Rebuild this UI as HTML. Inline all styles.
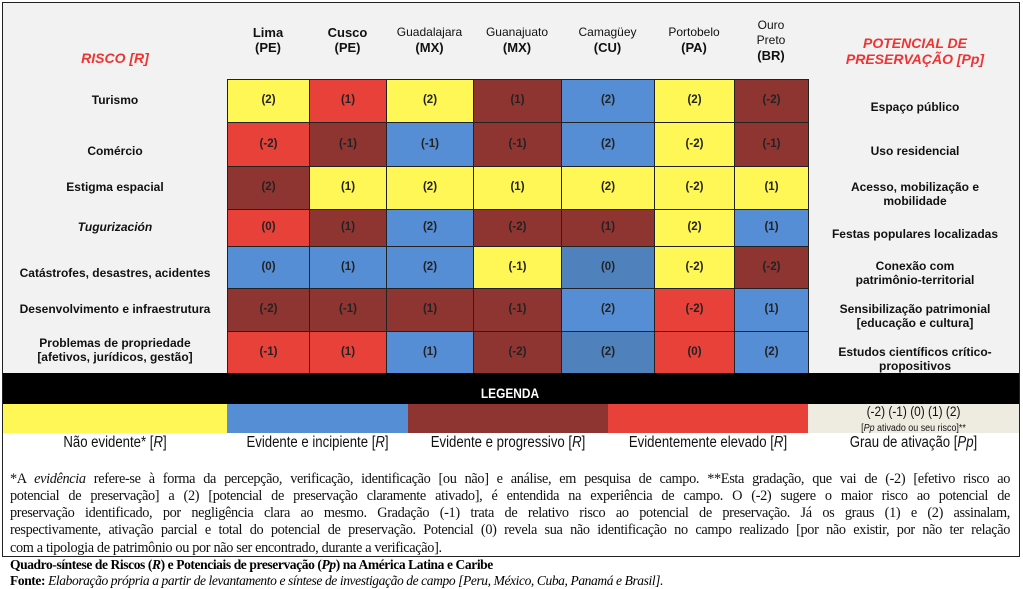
<!DOCTYPE html>
<html><head><meta charset="utf-8">
<style>
body{margin:0;width:1023px;height:589px;background:#fff;position:relative;overflow:hidden;font-family:"Liberation Sans",sans-serif;}
.a{position:absolute;}
#frame{left:2px;top:2px;width:1016px;height:553px;border:1.5px solid #222;background:#fff;}
#top{left:3px;top:3px;width:1016px;height:371px;background:#f2f2f2;}
.hdr{font-weight:bold;text-align:center;font-size:13px;line-height:15px;color:#111;}
.lab{font-weight:bold;text-align:center;font-size:12px;line-height:14px;color:#111;}
.cell{box-sizing:border-box;border:1px solid #222;display:flex;align-items:center;justify-content:center;font-weight:bold;font-size:11.5px;color:#222;}
.red{color:#e33;font-style:italic;font-weight:bold;text-align:center;font-size:14px;line-height:16px;}
.nar{font-size:15px;white-space:nowrap;transform:scaleX(0.85);transform-origin:center;text-align:center;color:#111;}
.fn{left:10px;width:1000px;font-family:"Liberation Serif",serif;font-size:14.3px;line-height:18px;text-align:justify;text-align-last:justify;letter-spacing:-0.35px;white-space:nowrap;color:#111;}
</style></head><body>
<div class="a" id="frame"></div>
<div class="a" id="top"></div>
<div class="a red" style="left:40px;top:50px;width:150px;">RISCO [R]</div>
<div class="a red" style="left:820px;top:35px;width:190px;">POTENCIAL DE<br>PRESERVAÇÃO [Pp]</div>
<div id="grid"></div>
<div class="a" style="left:3px;top:373px;width:1016px;height:31px;background:#000;"></div>
<div class="a nar" style="left:410px;top:385px;width:200px;color:#fff;font-size:14px;font-weight:bold;">LEGENDA</div>
<div id="legend"></div>
<div class="a fn" style="top:470px;">*A <i>evidência</i> refere-se à forma da percepção, verificação, identificação [ou não] e análise, em pesquisa de campo. **Esta gradação, que vai de (-2) [efetivo risco ao</div>
<div class="a fn" style="top:487px;">potencial de preservação] a (2) [potencial de preservação claramente ativado], é entendida na experiência de campo. O (-2) sugere o maior risco ao potencial de</div>
<div class="a fn" style="top:504px;">preservação identificado, por negligência clara ao mesmo. Gradação (-1) trata de relativo risco ao potencial de preservação. Já os graus (1) e (2) assinalam,</div>
<div class="a fn" style="top:521px;">respectivamente, ativação parcial e total do potencial de preservação. Potencial (0) revela sua não identificação no campo realizado [por não existir, por não ter relação</div>
<div class="a fn" style="top:539px;text-align-last:left;width:auto;">com a tipologia de patrimônio ou por não ser encontrado, durante a verificação].</div>
<div class="a" style="left:10px;top:557px;font-family:'Liberation Serif',serif;font-size:13.5px;font-weight:bold;letter-spacing:-0.4px;">Quadro-síntese de Riscos (<i>R</i>) e Potenciais de preservação (<i>Pp</i>) na América Latina e Caribe</div>
<div class="a" style="left:10px;top:573px;font-family:'Liberation Serif',serif;font-size:13.5px;letter-spacing:-0.4px;"><b>Fonte:</b> <i>Elaboração própria a partir de levantamento e síntese de investigação de campo [Peru, México, Cuba, Panamá e Brasil].</i></div>
<script>
const cities=["Lima<br>(PE)","Cusco<br>(PE)","Guadalajara<br>(MX)","Guanajuato<br>(MX)","Camagüey<br>(CU)","Portobelo<br>(PA)","Ouro<br>Preto<br>(BR)"];
const risks=["Turismo","Comércio","Estigma espacial","<i>Tugurización</i>","Catástrofes, desastres, acidentes","Desenvolvimento e infraestrutura","Problemas de propriedade<br>[afetivos, jurídicos, gestão]"];
const potentials=["Espaço público","Uso residencial","Acesso, mobilização e<br>mobilidade","Festas populares localizadas","Conexão com<br>patrimônio-territorial","Sensibilização patrimonial<br>[educação e cultura]","Estudos científicos crítico-<br>propositivos"];
const riskLevels=[
"YRYDBYD","RDBDBYD","DYYYYYY","RDBDDYB","BBBYCYD","DDDDBRB","RRBDCRB"];
const grades=[
[2,1,2,1,2,2,-2],[-2,-1,-1,-1,2,-2,-1],[2,1,2,1,2,-2,1],[0,1,2,-2,1,2,1],[0,1,2,-1,0,-2,-2],[-2,-1,1,-1,2,-2,1],[-1,1,1,-2,2,0,2]];
const legendLabels=["Não evidente* [<i>R</i>]","Evidente e incipiente [<i>R</i>]","Evidente e progressivo [<i>R</i>]","Evidentemente elevado [<i>R</i>]","Grau de ativação [<i>Pp</i>]"];
const colors={Y:"#fef755",R:"#e8413a",D:"#8e3532",B:"#558ed5",C:"#4f81bd",G:"#eeece1"};
const xs=[227,309,386,473,561,654,734,808];
const ys=[79,122,166,209,246,288,331,374];
const riskTop=[93,144,180,220,266,302,336];
const potTop=[100,144,180,227,259,302,345];
const g=document.getElementById('grid');
function add(html,cls,st){const d=document.createElement('div');d.className='a '+cls;d.innerHTML=html;d.style.cssText=st;g.appendChild(d);return d;}
cities.forEach((c,i)=>{const n=c.split('<br>').length;
 const d=add(c,'hdr',`left:${xs[i]}px;width:${xs[i+1]-xs[i]}px;top:${n>2?18:25}px;${i>=2?'font-weight:normal;font-size:12px;':''}`);
 if(i>=2){d.innerHTML=c.replace(/\((..)\)/,'<b style="font-size:13px">($1)</b>');}
 
 });
risks.forEach((r,j)=>{
 const d=add(r,'lab',`left:5px;width:220px;top:${riskTop[j]}px;`);
 
 
 const e=add(potentials[j],'lab',`left:810px;width:210px;top:${potTop[j]}px;`);
 
 
 for(let i=0;i<7;i++){
  const v=grades[j][i];
  const c=add('('+v+')','cell',`left:${xs[i]}px;top:${ys[j]}px;width:${xs[i+1]-xs[i]+1}px;height:${ys[j+1]-ys[j]+1}px;background:${colors[riskLevels[j][i]]};padding-bottom:2px;`);
  
  
 }});
const L=document.getElementById('legend');
const lx=[3,227,408,608,808,1019];const lc=["Y","B","D","R","G"];
lc.forEach((k,i)=>{const d=document.createElement('div');d.className='a';
 d.style.cssText=`left:${lx[i]}px;top:404px;width:${lx[i+1]-lx[i]}px;height:29px;background:${colors[k]};`;
 
 
 L.appendChild(d);
 const t=document.createElement('div');t.className='a nar';t.innerHTML=legendLabels[i];
 t.style.cssText=`left:${lx[i]}px;top:434px;width:${lx[i+1]-lx[i]}px;font-size:15.5px;`;
 
 
 L.appendChild(t);});
const s=document.createElement('div');s.className='a nar';
s.style.cssText='left:808px;top:404px;width:211px;font-size:14px;line-height:15px;';
s.innerHTML='(-2) (-1) (0) (1) (2)<br><span style="font-size:10.5px">[<i>Pp</i> ativado ou seu risco]**</span>';


L.appendChild(s);
</script>
</body></html>
